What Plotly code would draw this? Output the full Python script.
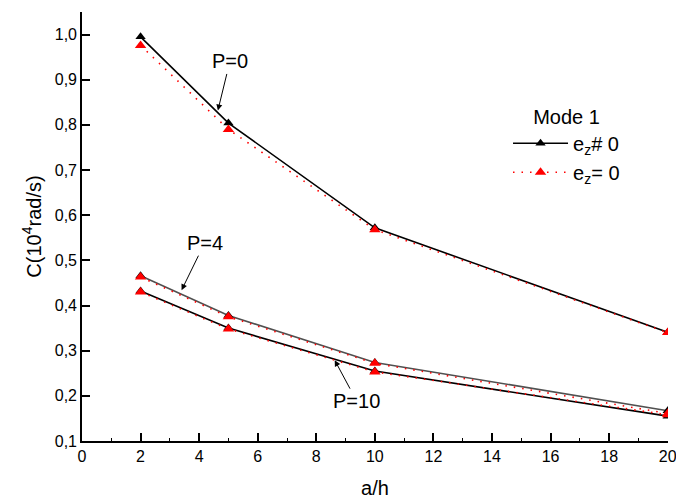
import plotly.graph_objects as go

# a/h ratios
a_h = [2, 5, 10, 20]

# C (10^4 rad/s), eccentricity e_z != 0
c_ez_p0 = [0.995, 0.804, 0.572, 0.341]
c_ez_p4 = [0.466, 0.378, 0.274, 0.167]
c_ez_p10 = [0.432, 0.350, 0.255, 0.155]

# C (10^4 rad/s), eccentricity e_z = 0
c_0_p0 = [0.976, 0.790, 0.568, 0.340]
c_0_p4 = [0.463, 0.375, 0.272, 0.161]
c_0_p10 = [0.430, 0.348, 0.253, 0.158]

x_ticks = list(range(0, 21, 2))
y_ticks = [0.1, 0.2, 0.3, 0.4, 0.5, 0.6, 0.7, 0.8, 0.9, 1.0]

FONT = "Arial, Liberation Sans, sans-serif"
RED = "#ff0000"

fig = go.Figure()

solid = [
    (c_ez_p0, "black", True),
    (c_ez_p4, "#505050", False),
    (c_ez_p10, "black", False),
]
for ys, col, show in solid:
    fig.add_trace(go.Scatter(
        x=a_h, y=ys, mode="lines+markers",
        name="e<sub>z</sub># 0", showlegend=show, legendrank=1,
        line=dict(color=col, width=1.6),
        marker=dict(symbol="triangle-up", size=9, color="black"),
    ))

for i, ys in enumerate([c_0_p0, c_0_p4, c_0_p10]):
    fig.add_trace(go.Scatter(
        x=a_h, y=ys, mode="lines+markers",
        name="e<sub>z</sub>= 0", showlegend=(i == 0), legendrank=2,
        line=dict(color=RED, width=1.6, dash="1.5px,7px"),
        marker=dict(symbol="triangle-up", size=10, color=RED),
    ))

# curve labels with arrows
labels = [
    ("P=0", 4.64, 0.832, 12, -49),
    ("P=4", 3.40, 0.434, 23, -47),
    ("P=10", 8.63, 0.279, 22, 41),
]
for txt, xv, yv, ax, ay in labels:
    fig.add_annotation(
        x=xv, y=yv, text=txt, showarrow=True, ax=ax, ay=ay,
        arrowhead=2, arrowsize=1.2, arrowwidth=1, arrowcolor="black",
        font=dict(family=FONT, size=20, color="black"),
    )

axis_common = dict(
    showline=True, linecolor="black", linewidth=1.6,
    ticks="inside", ticklen=8, tickwidth=1.5, tickcolor="black",
    showgrid=False, zeroline=False, mirror=False, automargin=False,
    ticklabeloverflow="allow",
    tickfont=dict(family=FONT, size=16, color="black"),
)

fig.update_xaxes(
    range=[0, 20.01], tickvals=x_ticks, ticktext=[str(v) for v in x_ticks],
    title=dict(text="a/h", font=dict(family=FONT, size=20, color="black"), standoff=17),
    minor=dict(ticks="inside", ticklen=3, tickwidth=1, tickcolor="black", dtick=1),
    **axis_common,
)
fig.update_yaxes(
    range=[0.1, 1.05], tickvals=y_ticks, tickformat=".1f",
    title=dict(text="C(10<sup>4</sup>rad/s)", font=dict(family=FONT, size=20, color="black"), standoff=8),
    **axis_common,
)

fig.update_layout(
    width=676, height=501,
    margin=dict(l=82, r=8, t=12, b=60),
    paper_bgcolor="white", plot_bgcolor="white",
    separators=", ",
    font=dict(family=FONT, color="black"),
    legend=dict(
        x=0.727, y=0.80, xanchor="left", yanchor="top",
        title=dict(text="Mode 1", side="top center", font=dict(family=FONT, size=20)),
        font=dict(family=FONT, size=20, color="black"),
        bgcolor="rgba(0,0,0,0)", itemwidth=55, tracegroupgap=0,
    ),
)

fig.write_html("out.html")
